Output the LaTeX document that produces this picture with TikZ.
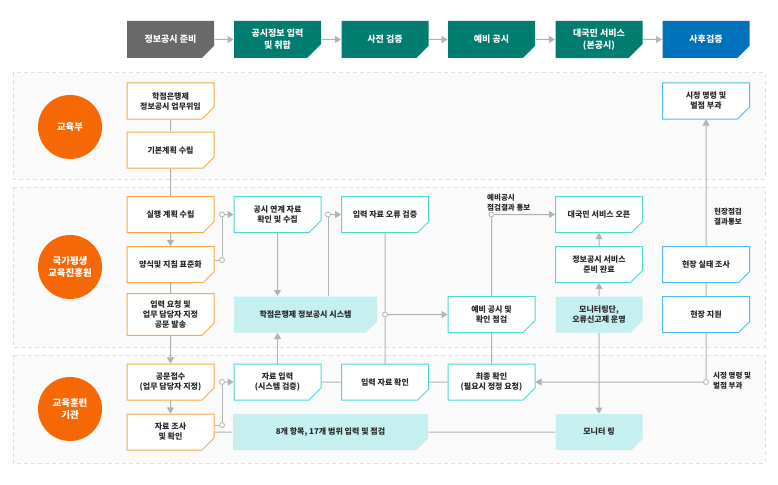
\documentclass[tikz,border=0pt]{standalone}
\usepackage{fontspec}
\setmainfont{Noto Sans CJK KR}
\usetikzlibrary{arrows.meta,shapes.misc}
\definecolor{hdrgray}  {RGB}{105,105,105}
\definecolor{hdrgreen} {RGB}{0,125,110}
\definecolor{hdrblue}  {RGB}{0,114,188}
\definecolor{orgfill}  {RGB}{246,104,6}
\definecolor{orgline}  {RGB}{250,168,70}
\definecolor{tealline} {RGB}{80,215,215}
\definecolor{cyanfill} {RGB}{198,240,240}
\definecolor{blueline} {RGB}{80,185,245}
\definecolor{linegray} {RGB}{178,178,178}
\definecolor{lanefill} {RGB}{250,250,250}
\definecolor{laneline} {RGB}{222,222,222}
\definecolor{boxtext}  {RGB}{40,40,40}

\begin{document}
\begin{tikzpicture}[
  x=1pt,y=-1pt,
  box/.style={chamfered rectangle,chamfered rectangle corners=south east,chamfered rectangle sep=6pt,
    minimum width=87pt,minimum height=36pt,inner sep=1pt,align=center,line width=1pt,
    text=boxtext,font=\fontsize{8}{10}\selectfont\bfseries},
  obox/.style={box,draw=orgline,fill=white},
  tbox/.style={box,draw=tealline,fill=white},
  bbox/.style={box,draw=blueline,fill=white},
  fbox/.style={box,fill=cyanfill},
  hdr/.style={box,minimum height=37pt,chamfered rectangle sep=7pt,text=white,
    font=\fontsize{9}{12}\selectfont\bfseries},
  org/.style={circle,fill=orgfill,minimum size=64pt,inner sep=0pt,text=white,align=center,
    font=\fontsize{9.5}{12}\selectfont\bfseries},
  lane/.style={draw=laneline,fill=lanefill,line width=1pt,dash pattern=on 4pt off 3pt},
  dot/.style={circle,draw=linegray,fill=white,line width=0.8pt,minimum size=5pt,inner sep=0pt},
  lbl/.style={inner sep=0pt,align=left,text=boxtext,font=\fontsize{7.5}{10}\selectfont\bfseries},
  >={Triangle[width=7pt,length=6pt]}]
  \useasboundingbox (0,0) rectangle (778,484);
  % swim lanes
  \draw[lane] (13,73) rectangle (765,179);
  \draw[lane] (13,187) rectangle (765,347);
  \draw[lane] (13,355) rectangle (765,463);
  % header steps
  \node[hdr,fill=hdrgray]  (hPrep)    at (170.5,39.5) {정보공시 준비};
  \node[hdr,fill=hdrgreen] (hInput)   at (277.5,39.5) {공시정보 입력\\및 취합};
  \node[hdr,fill=hdrgreen] (hPre)     at (385,39.5)   {사전 검증};
  \node[hdr,fill=hdrgreen] (hPrelim)  at (491.5,39.5) {예비 공시};
  \node[hdr,fill=hdrgreen] (hService) at (599,39.5)   {대국민 서비스\\(본공시)};
  \node[hdr,fill=hdrblue]  (hPost)    at (706,39.5)   {사후검증};
  % actors
  \node[org] (moe)   at (70,127) {교육부};
  \node[org] (nile)  at (70,267) {국가평생\\교육진흥원};
  \node[org] (inst)  at (70,409) {교육훈련\\기관};
  % boxes
  \node[obox] (delegate)  at (170.5,101)   {학점은행제\\정보공시 업무위임};
  \node[obox] (basicplan) at (170.5,150)   {기본계획 수립};
  \node[obox] (execplan)  at (170.5,214.5) {실행 계획 수립};
  \node[obox] (standard)  at (170.5,264.5) {양식및 지침 표준화};
  \node[obox] (request)   at (170.5,314.5) {입력 요청 및\\업무 담당자 지정\\공문 발송};
  \node[obox] (receipt)   at (170.5,382)   {공문접수\\(업무 담당자 지정)};
  \node[obox] (survey)    at (170.5,432)   {자료 조사\\및 확인};
  \node[tbox] (linkdata)  at (277.5,214.5) {공시 연계 자료\\확인 및 수집};
  \node[fbox,minimum width=143pt] (system) at (305.5,314.5) {학점은행제 정보공시 시스템};
  \node[tbox] (input)     at (277.5,382)   {자료 입력\\(시스템 검증)};
  \node[fbox,minimum width=195pt] (items) at (330.5,432) {8개 항목, 17개 범위 입력 및 점검};
  \node[tbox] (errcheck)  at (385,214.5)   {입력 자료 오류 검증};
  \node[tbox] (inputcheck) at (385,382)    {입력 자료 확인};
  \node[tbox] (prelim)    at (491.5,314.5) {예비 공시 및\\확인 점검};
  \node[tbox] (final)     at (491.5,382)   {최종 확인\\(필요시 정정 요청)};
  \node[tbox] (open)      at (599,214.5)   {대국민 서비스 오픈};
  \node[tbox] (ready)     at (599,264.5)   {정보공시 서비스\\준비 완료};
  \node[fbox] (monitor)   at (599,314.5)   {모니터링단,\\오류신고제 운영};
  \node[fbox] (monitoring) at (599,432)    {모니터 링};
  \node[bbox] (penalty)   at (706,101)     {시정 명령 및\\벌점 부과};
  \node[bbox] (sitesurvey) at (706,264.5)  {현장 실태 조사};
  \node[bbox] (sitesupport) at (706,314.5) {현장 지원};
  % junctions
  \node[dot] (j1) at (222,260) {};
  \node[dot] (j2) at (222,214.5) {};
  \node[dot] (j3) at (328,214.5) {};
  \node[dot] (j4) at (385,314.5) {};
  \node[dot] (j5) at (491.5,214.5) {};
  \node[dot] (j6) at (706,382) {};
  \node[dot] (j7) at (222,425) {};
  \node[dot] (j8) at (222,382) {};
  % notes
  \node[lbl,anchor=south west] (notePrelim) at (487,211) {예비공시\\점검결과 통보};
  \node[lbl,align=center] (noteSite) at (728,217) {현장점검\\결과통보};
  \node[lbl,anchor=west] (notePenalty) at (713,381) {시정 명령 및\\벌점 부과};
  % connectors
  \begin{scope}[draw=linegray,line width=1pt]
    \foreach \a/\b in {hPrep/hInput,hInput/hPre,hPre/hPrelim,hPrelim/hService,hService/hPost}
      \draw[->] (\a) -- (\b);
    \draw (delegate) -- (basicplan);
    \draw (basicplan) -- (execplan);
    \draw[->] (execplan) -- (standard);
    \draw (standard) -- (request);
    \draw[->] (request) -- (receipt);
    \draw[->] (receipt) -- (survey);
    \draw (standard.east |- j1) -- (j1);
    \draw (j1) -- (j2);
    \draw[->] (j2) -- (linkdata);
    \draw[->] (linkdata) -- (linkdata |- system.north);
    \draw (system.north -| j3) -- (j3);
    \draw[->] (j3) -- (errcheck);
    \draw (errcheck) -- (j4);
    \draw (j4) -- (inputcheck);
    \draw[->] (j4) -- (prelim);
    \draw[->] (input.north) -- (input.north |- system.south);
    \draw (survey.east |- j7) -- (j7);
    \draw (j7) -- (j8);
    \draw[->] (j8) -- (input);
    \draw (survey) -- (items);
    \draw (input) -- (inputcheck);
    \draw (inputcheck) -- (final);
    \draw (items) -- (monitoring);
    \draw (prelim) -- (j5);
    \draw[->] (j5) -- (open);
    \draw (prelim) -- (final);
    \draw[->] (monitor) -- (ready);
    \draw[->] (ready) -- (open);
    \draw[->] (monitor) -- (monitoring);
    \draw[->] (sitesurvey) -- (penalty);
    \draw (sitesurvey) -- (sitesupport);
    \draw (sitesupport) -- (j6);
    \draw[->] (j6) -- (final);
  \end{scope}
\end{tikzpicture}
\end{document}
